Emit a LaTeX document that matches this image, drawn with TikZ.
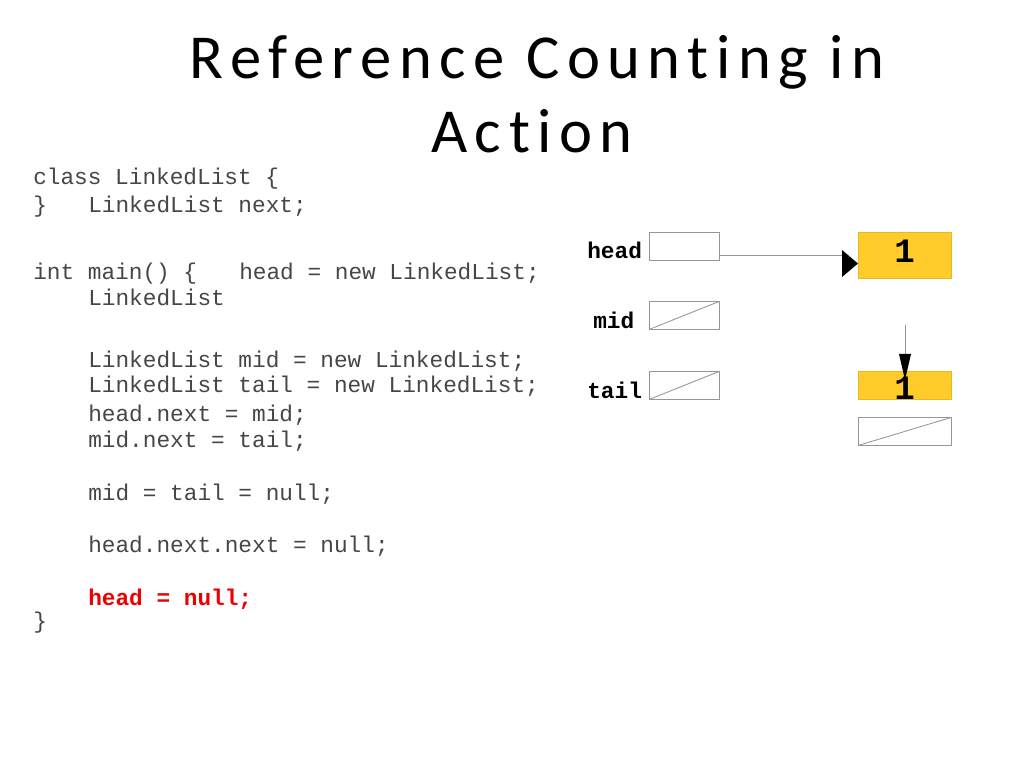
\documentclass[tikz,border=0pt]{standalone}
\usepackage{fontspec}
\setmainfont{Carlito}
\setmonofont{Liberation Mono}
\newfontfamily\titlefont[LetterSpace=12,Ligatures=NoCommon]{Carlito}
\usetikzlibrary{calc}
\definecolor{boxyellow}{RGB}{255,204,41}
\definecolor{codegray}{RGB}{70,70,70}
\definecolor{linegray}{RGB}{150,150,150}
\definecolor{codered}{RGB}{238,0,0}
\begin{document}
\begin{tikzpicture}[x=0.703125pt,y=-0.703125pt,
  title/.style={anchor=base, inner sep=0pt, font=\titlefont\fontsize{44}{52}\selectfont},
  code/.style={anchor=base west, inner sep=0pt, font=\fontsize{16}{19}\selectfont\ttfamily, text=codegray},
  hot/.style={anchor=base west, inner sep=0pt, font=\fontsize{16}{19}\selectfont\ttfamily\bfseries, text=codered},
  varlabel/.style={anchor=base west, inner sep=0pt, font=\fontsize{16}{19}\selectfont\ttfamily\bfseries},
  refbox/.style={draw=linegray, line width=0.5pt, minimum width=49.2pt, minimum height=19.7pt, inner sep=0pt, outer sep=0pt},
  objbox/.style={fill=boxyellow, draw=boxyellow!90!black, line width=0.3pt, minimum width=65.4pt, inner sep=0pt, outer sep=0pt},
  nullbox/.style={draw=linegray, line width=0.5pt, minimum width=65.4pt, minimum height=19.7pt, inner sep=0pt, outer sep=0pt},
  count/.style={inner sep=0pt, font=\fontsize{24}{28}\selectfont\ttfamily\bfseries},
  link/.style={draw=linegray, line width=0.6pt},
  tip/.style={fill=black}
]
\useasboundingbox (0,0) rectangle (1024,767);

% title
\node[title] (t1) at (537,79) {Reference Counting in};
\node[title] (t2) at (532,153) {Action};

% code
\node[code] (c1) at (33,185) {class LinkedList \{};
\node[code] (c2a) at (33,213) {\}};
\node[code] (c2b) at (88,213) {LinkedList next;};
\node[code] (c3a) at (33,279) {int main() \{};
\node[code] (c3b) at (239,279) {head = new LinkedList;};
\node[code] (c4) at (88,305) {LinkedList};
\node[code] (c5) at (88,367) {LinkedList mid = new LinkedList;};
\node[code] (c6) at (88,392) {LinkedList tail = new LinkedList;};
\node[code] (c7) at (88,421) {head.next = mid;};
\node[code] (c8) at (88,447) {mid.next = tail;};
\node[code] (c9) at (88,500) {mid = tail = null;};
\node[code] (c10) at (88,552) {head.next.next = null;};
\node[hot] (c11) at (88,605) {head = null;};
\node[code] (c12) at (33,628) {\}};

% variables
\node[varlabel] (lhead) at (587,258) {head};
\node[varlabel] (lmid) at (593,328) {mid};
\node[varlabel] (ltail) at (587,398) {tail};

\node[refbox] (hbox) at (684,246) {};
\node[refbox] (mbox) at (684,315.5) {};
\node[refbox] (tbox) at (684,385.5) {};
\draw[link] (mbox.south west) -- (mbox.north east);
\draw[link] (tbox.south west) -- (tbox.north east);

% objects
\node[objbox, minimum height=32.3pt] (o1) at (904.5,255) {};
\node[count] (n1) at ($(o1.center)+(0,-3.5)$) {1};
\node[objbox, minimum height=19.7pt] (o2) at (904.5,385) {};
\node[count] (n2) at ($(o2.center)+(0,3)$) {1};
\node[nullbox] (nb) at (904.5,431.5) {};
\draw[link] (nb.south west) -- (nb.north east);

% head -> object 1
\draw[link] ($(hbox.east)+(0,9)$) -- ($(o1.west)+(-15,0)$);
\fill[tip] ($(o1.west)+(-16,-5)$) -- ($(o1.west)+(-16,22)$) -- ($(o1.west)+(0,8.5)$) -- cycle;

% link into object 2
\coordinate (vstart) at (905,325);
\draw[link] (vstart) -- ($(o2.north)+(0.5,-17)$);
\fill[tip] ($(o2.north)+(-5.5,-17)$) -- ($(o2.north)+(6.5,-17)$) -- ($(o2.north)+(0.5,9)$) -- cycle;
\end{tikzpicture}
\end{document}
